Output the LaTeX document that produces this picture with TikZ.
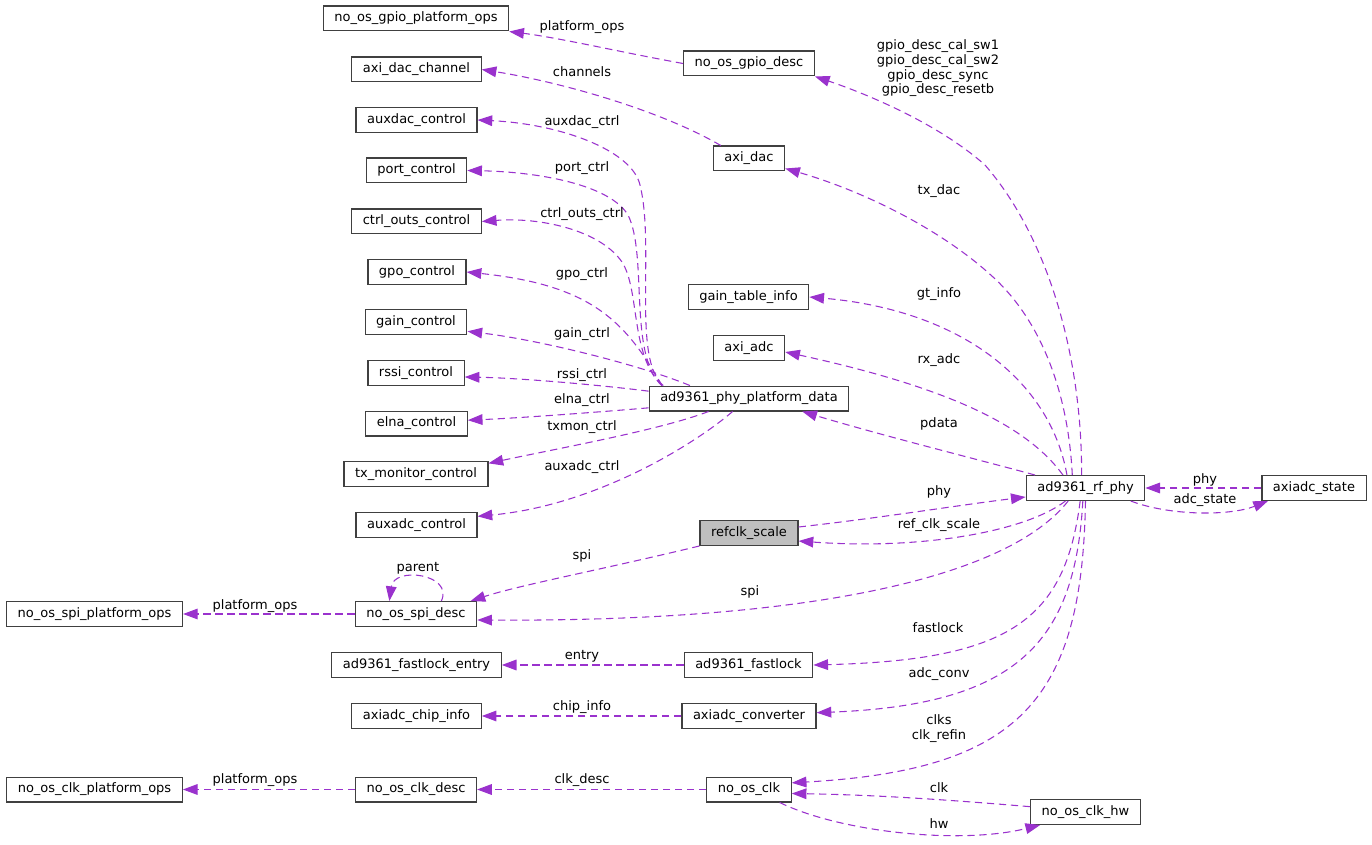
\documentclass[tikz,border=0pt]{standalone}
\usepackage{fontspec}
\setmainfont{DejaVu Sans}
\usetikzlibrary{arrows.meta}
\definecolor{EdgeOrchid}{RGB}{154, 50, 205}
\definecolor{BoxLine}{RGB}{64, 64, 64}
\definecolor{BoxGray}{RGB}{191, 191, 191}

\begin{document}
\begin{tikzpicture}[x=0.75pt, y=-0.75pt,
    every node/.style={font=\fontsize{9.75}{11}\selectfont},
    box/.style={draw=BoxLine, line width=0.9pt, fill=white, inner xsep=8.3pt, inner ysep=0pt, minimum height=18.6pt},
    rel/.style={draw=EdgeOrchid, line width=0.8pt, dash pattern=on 5.5pt off 3.5pt, -{Triangle[length=11pt, width=8pt]}},
    lbl/.style={inner sep=1pt, align=center}]
    \useasboundingbox (0,0) rectangle (1372,845);

    % Left column
    \node[box] (gpioops) at (416,18.5) {no\_os\_gpio\_platform\_ops};
    \node[box] (dacchan) at (416.5,69.5) {axi\_dac\_channel};
    \node[box] (auxdac) at (416.5,120) {auxdac\_control};
    \node[box] (port) at (416.5,170.5) {port\_control};
    \node[box] (ctrlouts) at (416.5,221.5) {ctrl\_outs\_control};
    \node[box] (gpo) at (417,272) {gpo\_control};
    \node[box] (gain) at (416,322) {gain\_control};
    \node[box] (rssi) at (416,373) {rssi\_control};
    \node[box] (elna) at (416.5,423.5) {elna\_control};
    \node[box] (txmon) at (416,474) {tx\_monitor\_control};
    \node[box] (auxadc) at (416.5,525) {auxadc\_control};
    \node[box] (spiops) at (94.5,614) {no\_os\_spi\_platform\_ops};
    \node[box] (spidesc) at (416,614) {no\_os\_spi\_desc};
    \node[box] (fastentry) at (416.5,665) {ad9361\_fastlock\_entry};
    \node[box] (chipinfo) at (416.5,716) {axiadc\_chip\_info};
    \node[box] (clkops) at (94.5,789.5) {no\_os\_clk\_platform\_ops};
    \node[box] (clkdesc) at (416,789.5) {no\_os\_clk\_desc};

    % Middle column
    \node[box] (gpiodesc) at (749,63.5) {no\_os\_gpio\_desc};
    \node[box] (axidac) at (749,158.5) {axi\_dac};
    \node[box] (gaintable) at (748.5,297) {gain\_table\_info};
    \node[box] (axiadc) at (749,348) {axi\_adc};
    \node[box] (pdata) at (749,398.5) {ad9361\_phy\_platform\_data};
    \node[box, fill=BoxGray] (refclk) at (749,533) {refclk\_scale};
    \node[box] (fastlock) at (748.5,665) {ad9361\_fastlock};
    \node[box] (converter) at (749,716) {axiadc\_converter};
    \node[box] (clk) at (749,789.5) {no\_os\_clk};

    % Right side
    \node[box] (rfphy) at (1085.5,488) {ad9361\_rf\_phy};
    \node[box] (adcstate) at (1314,488) {axiadc\_state};
    \node[box] (clkhw) at (1085.5,812) {no\_os\_clk\_hw};

    % Platform data members
    \draw[rel] ([xshift=11pt]pdata.north west) .. controls (632,360) and (655,245) .. (640,185) .. controls (632,150) and (560,124) .. (auxdac.east);
    \draw[rel] ([xshift=10pt]pdata.north west) .. controls (628,355) and (648,255) .. (628,215) .. controls (610,185) and (540,172) .. (port.east);
    \draw[rel] ([xshift=10pt]pdata.north west) .. controls (630,355) and (640,290) .. (622,262) .. controls (600,230) and (540,217) .. (ctrlouts.east);
    \draw[rel] ([xshift=10pt]pdata.north west) .. controls (625,320) and (590,285) .. (gpo.east);
    \draw[rel] ([xshift=31pt]pdata.north west) .. controls (640,365) and (540,340) .. ([yshift=-7pt]gain.east);
    \draw[rel] ([yshift=5.5pt]pdata.west) .. controls (600,385) and (520,378) .. ([yshift=-3pt]rssi.east);
    \draw[rel] ([yshift=-7pt]pdata.west) .. controls (600,412) and (520,418) .. ([yshift=2.5pt]elna.east);
    \draw[rel] ([xshift=45pt]pdata.south west) .. controls (660,430) and (560,448) .. ([yshift=8pt]txmon.east);
    \draw[rel] ([xshift=63pt]pdata.south west) .. controls (700,440) and (600,505) .. ([yshift=6.5pt]auxadc.east);
    \node[lbl] (l-auxdac) at (582,122) {auxdac\_ctrl};
    \node[lbl] (l-port) at (582,168) {port\_ctrl};
    \node[lbl] (l-ctrlouts) at (582,214) {ctrl\_outs\_ctrl};
    \node[lbl] (l-gpo) at (582,274) {gpo\_ctrl};
    \node[lbl] (l-gain) at (582,334) {gain\_ctrl};
    \node[lbl] (l-rssi) at (582,375) {rssi\_ctrl};
    \node[lbl] (l-elna) at (582,400) {elna\_ctrl};
    \node[lbl] (l-txmon) at (582,427) {txmon\_ctrl};
    \node[lbl] (l-auxadc) at (582,467) {auxadc\_ctrl};

    % rf_phy members
    \draw[rel] ([xshift=42pt]rfphy.north west) .. controls (1082,360) and (1050,240) .. (985,165) .. controls (940,125) and (870,95) .. (gpiodesc.south east);
    \draw[rel] ([xshift=35pt]rfphy.north west) .. controls (1068,390) and (1040,320) .. (993,277) .. controls (940,228) and (860,190) .. ([yshift=-7.5pt]axidac.east);
    \draw[rel] ([xshift=31pt]rfphy.north west) .. controls (1050,380) and (960,310) .. (gaintable.east);
    \draw[rel] ([xshift=28pt]rfphy.north west) .. controls (1030,430) and (960,390) .. ([yshift=-3pt]axiadc.east);
    \draw[rel] ([xshift=7pt]rfphy.north west) .. controls (980,460) and (880,435) .. ([xshift=40pt]pdata.south);
    \draw[rel] ([yshift=4.5pt]refclk.east) .. controls (880,518) and (960,505) .. ([yshift=-6.75pt]rfphy.west);
    \draw[rel] ([xshift=-15pt]rfphy.south) .. controls (1025,532) and (920,550) .. ([yshift=-6pt]refclk.east);
    \draw[rel] ([xshift=-13pt]rfphy.south) .. controls (1010,575) and (820,622) .. ([yshift=-4.5pt]spidesc.east);
    \draw[rel] ([xshift=-4pt]rfphy.south) .. controls (1065,620) and (1010,660) .. (fastlock.east);
    \draw[rel] ([xshift=-2pt]rfphy.south) .. controls (1075,640) and (1020,705) .. ([yshift=2.5pt]converter.east);
    \draw[rel] (rfphy.south) .. controls (1082,700) and (1020,770) .. ([yshift=5pt]clk.east);
    \node[lbl] (l-gpio) at (938,68.5) {gpio\_desc\_cal\_sw1\\gpio\_desc\_cal\_sw2\\gpio\_desc\_sync\\gpio\_desc\_resetb};
    \node[lbl] (l-txdac) at (939,191) {tx\_dac};
    \node[lbl] (l-gt) at (939,294) {gt\_info};
    \node[lbl] (l-rxadc) at (939,360) {rx\_adc};
    \node[lbl] (l-pdata) at (939,424) {pdata};
    \node[lbl] (l-phy) at (939,492) {phy};
    \node[lbl] (l-refclk) at (939,525) {ref\_clk\_scale};
    \node[lbl] (l-spi2) at (750,592) {spi};
    \node[lbl] (l-fastlock) at (938,628) {fastlock};
    \node[lbl] (l-adcconv) at (939,674) {adc\_conv};
    \node[lbl] (l-clks) at (939,728.5) {clks\\clk\_refin};

    % axi_dac, gpio
    \draw[rel] (gpiodesc.west) .. controls (620,52) and (560,38) .. (gpioops.south east);
    \draw[rel] ([xshift=6pt]axidac.north west) .. controls (660,110) and (560,82) .. (dacchan.east);
    \node[lbl] (l-gpioops) at (582,27) {platform\_ops};
    \node[lbl] (l-chan) at (582,72) {channels};

    % spi
    \draw[rel] (refclk.south west) .. controls (600,570) and (520,585) .. ([xshift=-5pt]spidesc.north east);
    \draw[rel] ([xshift=19pt]spidesc.north) .. controls (454,574) and (394,566) .. ([xshift=-20pt]spidesc.north);
    \draw[rel] (spidesc.west) -- (spiops.east);
    \node[lbl] (l-spi1) at (582,556) {spi};
    \node[lbl] (l-parent) at (418,568) {parent};
    \node[lbl] (l-spiops) at (255,606) {platform\_ops};

    % plain links
    \draw[rel] (fastlock.west) -- (fastentry.east);
    \draw[rel] (converter.west) -- (chipinfo.east);
    \draw[rel] (clk.west) -- (clkdesc.east);
    \draw[rel] (clkdesc.west) -- (clkops.east);
    \node[lbl] (l-entry) at (582,656) {entry};
    \node[lbl] (l-chip) at (582,707) {chip\_info};
    \node[lbl] (l-clkdesc) at (582,780) {clk\_desc};
    \node[lbl] (l-clkops) at (255,780) {platform\_ops};

    % clk <-> clk_hw
    \draw[rel] ([yshift=4pt]clkhw.west) .. controls (950,800) and (880,795) .. ([yshift=-3pt]clk.east);
    \draw[rel] ([xshift=23pt]clk.south) .. controls (840,832) and (960,845) .. ([xshift=-34pt]clkhw.south);
    \node[lbl] (l-clk) at (939,788) {clk};
    \node[lbl] (l-hw) at (939,824) {hw};

    % axiadc_state
    \draw[rel] (adcstate.west) -- (rfphy.east);
    \draw[rel] ([xshift=-11pt]rfphy.south east) .. controls (1170,516) and (1230,516) .. ([xshift=5pt]adcstate.south west);
    \node[lbl] (l-phy2) at (1205,480) {phy};
    \node[lbl] (l-adcstate) at (1205,500) {adc\_state};
\end{tikzpicture}
\end{document}
